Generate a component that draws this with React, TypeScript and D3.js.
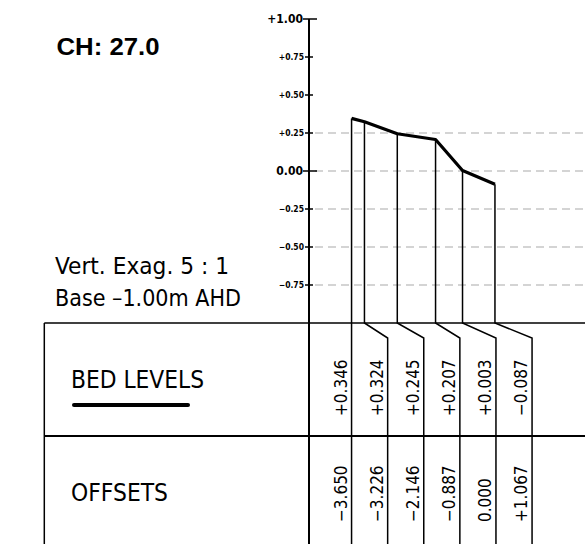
import React from "react";
import * as d3 from "d3";

const offsets = [-3.65, -3.226, -2.146, -0.887, 0.0, 1.067];
const bedLevels = [0.346, 0.324, 0.245, 0.207, 0.003, -0.087];
const yTicks = [1.0, 0.75, 0.5, 0.25, 0.0, -0.25, -0.5, -0.75];
const majorTicks = [1.0, 0.0];
const gridTicks = [0.25, 0.0, -0.25, -0.5, -0.75];
const title = "CH: 27.0";
const noteLines = ["Vert. Exag. 5 : 1", "Base \u20131.00m AHD"];
const rowLabels = ["BED LEVELS", "OFFSETS"];

const W = 585;
const H = 544;
const THIN = "'DejaVu Sans Condensed', 'DejaVu Sans', sans-serif";

const fmtVal = (v: number) =>
  v === 0 ? "0.000" : (v > 0 ? "+" : "\u2212") + Math.abs(v).toFixed(3);
const fmtTick = (v: number) =>
  v === 0 ? "0.00" : (v > 0 ? "+" : "\u2212") + Math.abs(v).toFixed(2);

export default function App() {
  const y = d3.scaleLinear().domain([-1, 1]).range([323, 19]);
  const x = d3.scaleLinear().domain([-5.05, 4.15]).range([309, 309 + 9.2 * 30.4]);
  const axisX = x(-5.05);
  const tableTop = y(-1);
  const rowSplit = 436;
  const colSpacing = 36.1;
  const colX = offsets.map((_, i) => x(offsets[0]) + i * colSpacing);
  const pts = offsets.map((o, i) => [x(o), y(bedLevels[i])] as [number, number]);
  const line = d3.line();

  return (
    <svg
      width={W}
      height={H}
      style={{ position: "absolute", left: 0, top: 0, background: "#fff" }}
    >
      <rect x={0} y={0} width={W} height={H} fill="#fff" />
      {/* title */}
      <text
        x={56.5}
        y={55}
        fontFamily="'Liberation Sans', Arial, sans-serif"
        fontWeight="bold"
        fontSize={24.5}
        textLength={103}
        lengthAdjust="spacingAndGlyphs"
        fill="#000"
      >
        {title}
      </text>
      {/* notes */}
      {noteLines.map((t, i) => (
        <text
          key={t}
          x={55}
          y={274 + i * 32}
          fontFamily={THIN}
          fontSize={23}
          textLength={i === 0 ? 174 : 186}
          lengthAdjust="spacingAndGlyphs"
          fill="#000"
        >
          {t}
        </text>
      ))}
      {/* gridlines */}
      {gridTicks.map((t) => (
        <line
          key={"g" + t}
          x1={axisX + 6}
          x2={W}
          y1={y(t)}
          y2={y(t)}
          stroke="#aaa"
          strokeWidth={1.2}
          strokeDasharray="8,5"
        />
      ))}
      {/* axis */}
      <line x1={axisX} x2={axisX} y1={y(1)} y2={H} stroke="#000" strokeWidth={2} />
      {yTicks.map((t) => {
        const major = majorTicks.includes(t);
        return (
          <g key={"t" + t}>
            <line
              x1={major ? axisX - 6 : axisX - 4}
              x2={major ? axisX + 8 : axisX + 4}
              y1={y(t)}
              y2={y(t)}
              stroke="#000"
              strokeWidth={1.5}
            />
            <text
              x={axisX - (major ? 6 : 5)}
              y={y(t)}
              dy="0.35em"
              textAnchor="end"
              fontFamily={THIN}
              fontWeight="bold"
              fontSize={major ? 12 : 8.5}
              fill="#000"
            >
              {fmtTick(t)}
            </text>
          </g>
        );
      })}
      {/* drop lines */}
      {pts.map((p, i) => (
        <path
          key={"d" + i}
          d={`M${p[0]},${p[1]} L${p[0]},${tableTop} L${colX[i]},${tableTop + 15} L${colX[i]},${H}`}
          fill="none"
          stroke="#000"
          strokeWidth={1.5}
        />
      ))}
      {/* profile */}
      <path d={line(pts) || ""} fill="none" stroke="#000" strokeWidth={3.2} strokeLinejoin="round" />
      {/* table frame */}
      <line x1={44.3} x2={44.3} y1={tableTop} y2={H} stroke="#000" strokeWidth={1.5} />
      <line x1={44.3} x2={W} y1={tableTop} y2={tableTop} stroke="#000" strokeWidth={1.6} />
      <line x1={44.3} x2={W} y1={rowSplit} y2={rowSplit} stroke="#000" strokeWidth={2} />
      {/* row labels */}
      <text x={71} y={388} fontFamily={THIN} fontSize={24} textLength={133} lengthAdjust="spacingAndGlyphs" fill="#000">
        {rowLabels[0]}
      </text>
      <line x1={74} x2={188} y1={405} y2={405} stroke="#000" strokeWidth={4} strokeLinecap="round" />
      <text x={71} y={501} fontFamily={THIN} fontSize={24} textLength={97} lengthAdjust="spacingAndGlyphs" fill="#000">
        {rowLabels[1]}
      </text>
      {/* values */}
      {bedLevels.map((v, i) => (
        <text
          key={"b" + i}
          transform={`translate(${colX[i] - 5},416) rotate(-90)`}
          fontFamily={THIN}
          fontSize={17}
          fill="#000"
        >
          {fmtVal(v)}
        </text>
      ))}
      {offsets.map((v, i) => (
        <text
          key={"o" + i}
          transform={`translate(${colX[i] - 5},522) rotate(-90)`}
          fontFamily={THIN}
          fontSize={17}
          fill="#000"
        >
          {fmtVal(v)}
        </text>
      ))}
    </svg>
  );
}
